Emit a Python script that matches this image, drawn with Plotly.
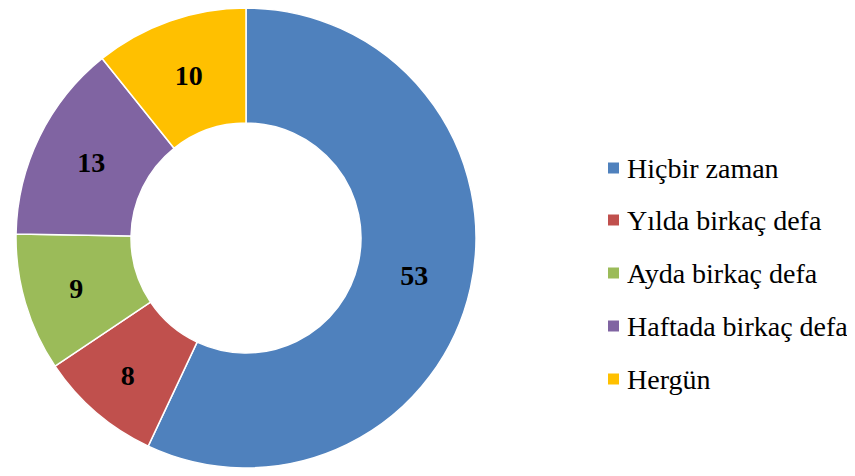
import plotly.graph_objects as go

labels = ['Hiçbir zaman', 'Yılda birkaç defa', 'Ayda birkaç defa', 'Haftada birkaç defa', 'Hergün']
values = [53, 8, 9, 13, 10]
colors = ['#4F81BD', '#C0504D', '#9BBB59', '#8064A2', '#FFC000']

W, H = 855, 476
OFF = 8  # page margin of the browser
font_family = 'Liberation Serif, Times New Roman, serif'

fig = go.Figure(go.Pie(
    labels=labels,
    values=values,
    hole=0.5,
    sort=False,
    direction='clockwise',
    rotation=0,
    marker=dict(colors=colors, line=dict(color='white', width=1.5)),
    textinfo='value',
    textposition='inside',
    insidetextorientation='horizontal',
    textfont=dict(family=font_family, size=28, color='black', weight='bold'),
    domain=dict(x=[8 / W, 468 / W], y=[1 - 460 / H, 1]),
    showlegend=False,
))

# legend drawn by hand so the spacing matches the original
legend_y = [168, 220, 273, 326, 379]
shapes = []
annotations = []
for lab, col, ypx in zip(labels, colors, legend_y):
    y = ypx - OFF
    shapes.append(dict(type='rect', xref='paper', yref='paper',
                       x0=(608 - OFF) / W, x1=(619 - OFF) / W,
                       y0=1 - (y + 5.5) / H, y1=1 - (y - 5.5) / H,
                       fillcolor=col, line=dict(width=0)))
    annotations.append(dict(text=lab, xref='paper', yref='paper',
                            x=(625 - OFF) / W, y=1 - y / H, xanchor='left', yanchor='middle',
                            showarrow=False,
                            font=dict(family=font_family, size=28, color='black')))

fig.update_layout(
    width=W, height=H,
    margin=dict(l=0, r=0, t=0, b=0),
    paper_bgcolor='white',
    plot_bgcolor='white',
    shapes=shapes,
    annotations=annotations,
)

fig.write_html('out.html')
